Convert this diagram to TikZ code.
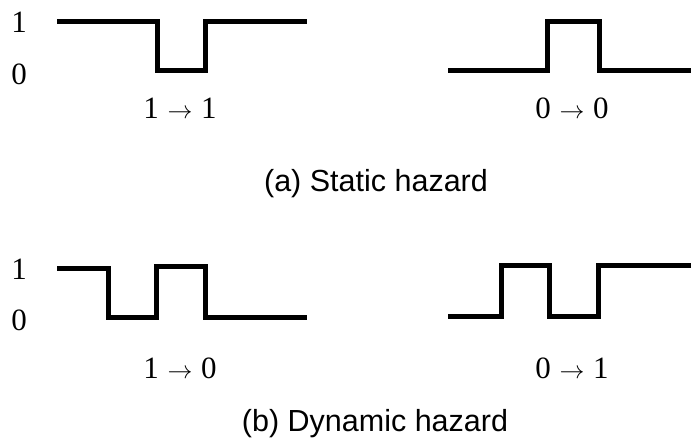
\documentclass[tikz,border=0pt]{standalone}
\usepackage{fontspec}
\setmainfont{Liberation Serif}
\setsansfont{Liberation Sans}
\usepackage{tikz}

\tikzset{
  wave/.style={line width=5pt, line join=miter, line cap=butt},
  level/.style={font=\fontsize{31}{36}\selectfont, inner sep=0pt},
  trans/.style={font=\fontsize{31}{36}\selectfont, inner sep=0pt},
  caption/.style={font=\sffamily\fontsize{30.5}{36}\selectfont, inner sep=0pt}
}

\begin{document}
\begin{tikzpicture}[x=1pt, y=-1pt]
\useasboundingbox (0,0) rectangle (692,445);

% (a) static hazard
\node[level] (a1) at (19,22) {1};
\node[level] (a0) at (19,74) {0};
\draw[wave] (57,21) -- (157,21) -- (157,70) -- (205,70) -- (205,21) -- (307,21);
\draw[wave] (448,70) -- (547,70) -- (547,21) -- (599,21) -- (599,70) -- (691,70);
\node[trans] (a11) at (180,108) {1\;$\rightarrow$\;1};
\node[trans] (a00) at (572,108) {0\;$\rightarrow$\;0};
\node[caption] (capa) at (376,184) {(a) Static hazard};

% (b) dynamic hazard
\node[level] (b1) at (19,269) {1};
\node[level] (b0) at (19,320) {0};
\draw[wave] (57,268) -- (108,268) -- (108,317) -- (156,317) -- (156,266) -- (205,266) -- (205,317) -- (307,317);
\draw[wave] (448,316) -- (501,316) -- (501,265) -- (549,265) -- (549,316) -- (598,316) -- (598,265) -- (691,265);
\node[trans] (b10) at (180,368) {1\;$\rightarrow$\;0};
\node[trans] (b01) at (572,368) {0\;$\rightarrow$\;1};
\node[caption] (capb) at (375,424) {(b) Dynamic hazard};
\end{tikzpicture}
\end{document}
